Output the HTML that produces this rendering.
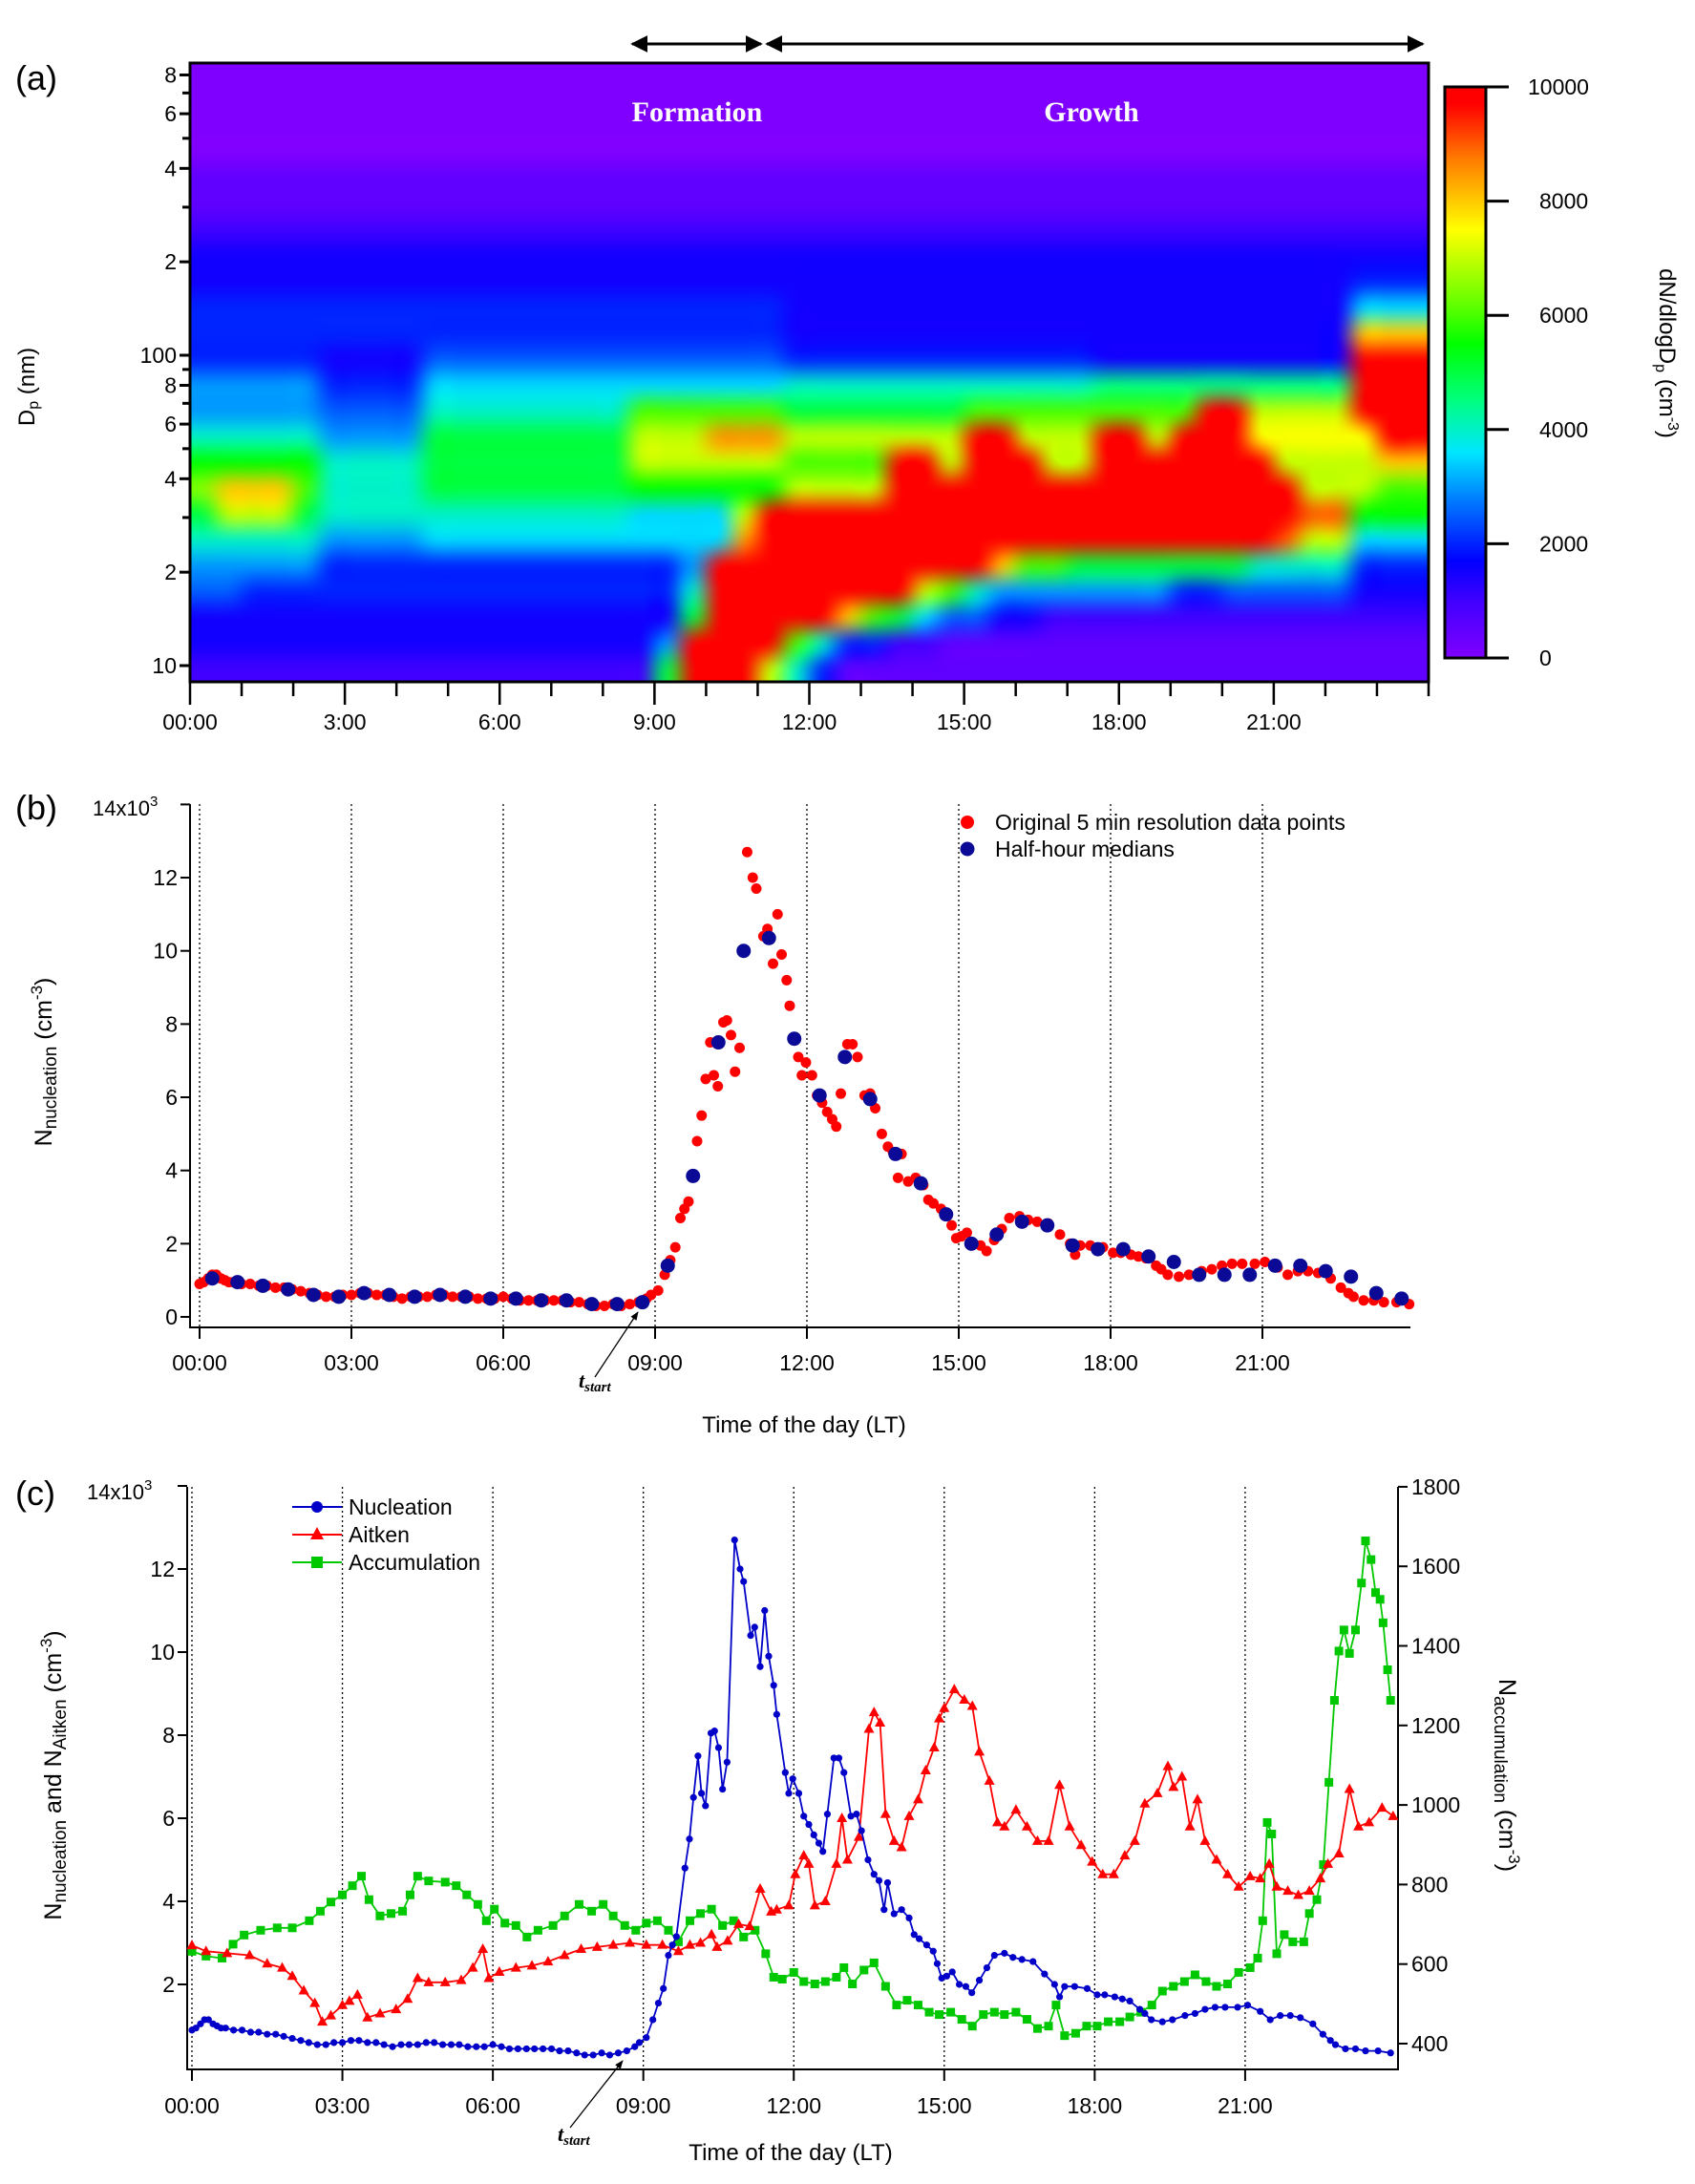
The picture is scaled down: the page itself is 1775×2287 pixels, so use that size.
<!DOCTYPE html>
<html><head><meta charset="utf-8">
<style>
html,body{margin:0;padding:0;background:#fff;}
#wrap{position:relative;width:1775px;height:2287px;overflow:hidden;background:#fff;}
#heat{position:absolute;left:199px;top:66px;}
svg{position:absolute;left:0;top:0;}
text{font-family:"Liberation Sans",sans-serif;fill:#000;}
</style></head>
<body>
<div id="wrap">
<canvas id="heat" width="1297" height="648"></canvas>
<svg id="svg" width="1775" height="2287" viewBox="0 0 1775 2287">
  <defs>
    <marker id="ah" viewBox="0 0 10 10" refX="9" refY="5" markerWidth="6" markerHeight="6" orient="auto-start-reverse"><path d="M0,0 L10,5 L0,10 z" fill="#000"/></marker>
    <marker id="ah2" viewBox="0 0 10 10" refX="9" refY="5" markerWidth="7" markerHeight="7" orient="auto"><path d="M0,1 L10,5 L0,9 z" fill="#000"/></marker>
    <linearGradient id="cbar" x1="0" y1="1" x2="0" y2="0">
      <stop offset="0" stop-color="rgb(128,0,255)"/>
      <stop offset="0.1" stop-color="rgb(64,0,255)"/>
      <stop offset="0.17" stop-color="rgb(0,0,255)"/>
      <stop offset="0.28" stop-color="rgb(0,128,255)"/>
      <stop offset="0.36" stop-color="rgb(0,230,255)"/>
      <stop offset="0.45" stop-color="rgb(0,255,128)"/>
      <stop offset="0.55" stop-color="rgb(0,255,0)"/>
      <stop offset="0.62" stop-color="rgb(100,255,0)"/>
      <stop offset="0.75" stop-color="rgb(255,255,0)"/>
      <stop offset="0.87" stop-color="rgb(255,128,0)"/>
      <stop offset="0.97" stop-color="rgb(255,0,0)"/>
      <stop offset="1" stop-color="rgb(255,0,0)"/>
    </linearGradient>
  </defs>
  <g id="gA"></g>
  <g id="gB"></g>
  <g id="gC"></g>
</svg>
</div>
<script>
// ---------- Panel (a) heatmap data: rows bottom (9 nm) -> top (870 nm); 48 half-hour columns; char index*500 cm-3 ----------
const heatRows = [
"2*18 a k*3 e 8 4 1*23",
"3*18 6 k*4 c 8 4*2 2*2 1*19",
"3*19 a k*5 g c a 7 5*2 3*2 2*15",
"5*2 4*17 8 k*8 e c 8 6*7 4*2 5*5 3*3",
"6*5 4*14 6 k*11 g c*2 a*7 8*4 4*3",
"8*5 6*4 7*12 h k*20 i e*2 7*3",
"a e*3 a 8*4 8*8 7*4 e k*21 i*2 b*3",
"d g*3 c 8*4 a*8 b*6 e*4 k*16 e*3 c*2",
"b*5 8*4 a*8 e*6 c*4 k*2 e k*3 e*2 k*7 e*4 g*2",
"8*5 6*4 a*8 e*3 h*3 e*7 k*2 e*3 k*2 e k*3 f*5 k*2",
"6*5 5*4 8*8 c*6 a*7 c*9 k*2 e*4 k*3",
"6*5 4*4 7*14 8*12 9*10 k*3",
"4*5 3*4 5*14 4*12 3*10 k*3",
"4*23 3*22 g*3",
"4*23 3*22 7*3",
"3*45 4*3",
"3*48",
"2*48",
"1*48",
"1*48",
"0*48","0*48","0*48","0*48"
];
const sizeTicks = [10,20,30,40,50,60,70,80,90,100,200,300,400,500,600,700,800];
const sizeTickLabels = ["10","2","","4","","6","","8","","100","2","","4","","6","","8"];
const cbarTicks = [0,2000,4000,6000,8000,10000];

// ---------- Panel (b) data ----------
const bTimes = [0,0.08,0.17,0.25,0.33,0.42,0.5,0.58,0.67,0.83,1.0,1.17,1.33,1.5,1.67,1.83,2.0,2.17,2.33,2.5,2.67,2.83,3.0,3.17,3.33,3.5,3.67,3.83,4.0,4.17,4.33,4.5,4.67,4.83,5.0,5.17,5.33,5.5,5.67,5.83,6.0,6.17,6.33,6.5,6.67,6.83,7.0,7.17,7.33,7.5,7.67,7.83,8.0,8.17,8.33,8.5,8.67,8.83,8.92,
9.06,9.19,9.3,9.4,9.5,9.58,9.66,9.83,9.92,10.0,10.09,10.16,10.24,10.35,10.42,10.5,10.58,10.67,10.82,10.93,11.0,11.14,11.22,11.33,11.42,11.5,11.6,11.66,11.83,11.9,11.98,12.1,12.2,12.3,12.4,12.5,12.58,12.67,12.8,12.9,13.0,13.14,13.25,13.35,13.48,13.6,13.7,13.8,13.87,14.0,14.15,14.3,14.4,14.5,14.65,14.78,14.86,14.95,15.05,15.16,15.3,15.43,15.55,15.7,15.85,16.0,16.2,16.37,16.55,16.77,17.0,17.2,17.3,17.4,17.6,17.85,18.05,18.2,18.4,18.55,18.7,18.9,19.0,19.13,19.35,19.55,19.8,20.0,20.2,20.4,20.6,20.85,21.05,21.3,21.5,21.7,21.9,22.1,22.35,22.55,22.7,22.8,23.0,23.2,23.4,23.65,23.9];
const bValues = [0.9,0.95,1.05,1.15,1.15,1.05,1.0,0.95,0.95,0.9,0.9,0.85,0.85,0.8,0.8,0.75,0.7,0.65,0.6,0.55,0.55,0.6,0.6,0.65,0.65,0.6,0.6,0.55,0.5,0.55,0.55,0.55,0.6,0.6,0.55,0.55,0.55,0.5,0.5,0.5,0.55,0.5,0.45,0.45,0.45,0.45,0.45,0.45,0.4,0.4,0.35,0.3,0.3,0.35,0.3,0.35,0.4,0.5,0.6,
0.72,1.15,1.55,1.9,2.7,2.95,3.15,4.8,5.5,6.5,7.5,6.6,6.3,8.05,8.1,7.7,6.7,7.35,12.7,12.0,11.7,10.4,10.6,9.65,11.0,9.9,9.2,8.5,7.1,6.6,6.95,6.6,6.05,5.85,5.6,5.4,5.2,6.1,7.45,7.45,7.1,6.05,6.1,5.7,5.0,4.65,4.5,3.8,4.45,3.7,3.8,3.6,3.2,3.1,2.95,2.8,2.5,2.15,2.2,2.3,2.0,1.95,1.8,2.1,2.4,2.7,2.75,2.65,2.6,2.55,2.25,2.0,1.7,1.95,1.95,1.9,1.75,1.75,1.7,1.65,1.6,1.4,1.3,1.15,1.1,1.15,1.25,1.3,1.4,1.45,1.45,1.45,1.5,1.35,1.15,1.25,1.25,1.2,1.05,0.8,0.65,0.55,0.45,0.45,0.4,0.4,0.35];
const medTimes = [0.25,0.75,1.25,1.75,2.25,2.75,3.25,3.75,4.25,4.75,5.25,5.75,6.25,6.75,7.25,7.75,8.25,8.75,9.25,9.75,10.25,10.75,11.25,11.75,12.25,12.75,13.25,13.75,14.25,14.75,15.25,15.75,16.25,16.75,17.25,17.75,18.25,18.75,19.25,19.75,20.25,20.75,21.25,21.75,22.25,22.75,23.25,23.75];
const medValues = [1.05,0.95,0.85,0.75,0.6,0.55,0.65,0.6,0.55,0.6,0.55,0.5,0.5,0.45,0.45,0.35,0.35,0.4,1.4,3.85,7.5,10.0,10.35,7.6,6.05,7.1,5.95,4.45,3.65,2.8,2.0,2.25,2.6,2.5,1.95,1.85,1.85,1.65,1.5,1.15,1.15,1.15,1.4,1.4,1.25,1.1,0.65,0.5];
const leftTicks = [0,2,4,6,8,10,12,14];
const hourTicks = [0,3,6,9,12,15,18,21];
const hourLabels = ["00:00","03:00","06:00","09:00","12:00","15:00","18:00","21:00"];
const hourLabelsA = ["00:00","3:00","6:00","9:00","12:00","15:00","18:00","21:00"];

// ---------- Panel (c) data ----------
const aitTimes = [0,0.28,0.7,1.15,1.5,1.8,2.0,2.23,2.45,2.6,2.77,3.0,3.14,3.3,3.5,3.75,4.07,4.3,4.5,4.72,5.05,5.37,5.6,5.8,5.92,6.13,6.46,6.78,7.1,7.43,7.76,8.08,8.4,8.73,9.06,9.38,9.7,9.93,10.14,10.36,10.47,10.68,10.9,11.12,11.33,11.55,11.66,11.9,12.03,12.2,12.3,12.42,12.63,12.85,12.96,13.07,13.3,13.5,13.6,13.72,13.83,14.0,14.15,14.3,14.48,14.63,14.8,14.9,15.0,15.2,15.4,15.56,15.7,15.9,16.06,16.2,16.43,16.65,16.86,17.08,17.3,17.5,17.73,17.95,18.16,18.38,18.6,18.8,19.0,19.25,19.46,19.57,19.74,19.9,20.05,20.2,20.43,20.65,20.87,21.1,21.3,21.48,21.63,21.85,22.06,22.28,22.5,22.65,22.87,23.08,23.26,23.47,23.73,23.95];
const aitValues = [2.94,2.8,2.75,2.7,2.5,2.4,2.2,1.85,1.55,1.1,1.25,1.5,1.6,1.75,1.2,1.3,1.4,1.65,2.15,2.05,2.05,2.1,2.4,2.85,2.15,2.3,2.4,2.45,2.55,2.7,2.85,2.9,2.95,3.0,2.95,2.95,2.8,2.95,3.0,3.2,2.9,3.05,3.45,3.4,4.3,3.75,3.8,3.9,4.65,5.1,4.9,3.9,4.0,4.9,6.0,5.0,5.55,8.15,8.55,8.3,6.1,5.45,5.3,6.05,6.45,7.15,7.7,8.4,8.65,9.1,8.85,8.7,7.6,6.9,5.9,5.8,6.2,5.8,5.45,5.45,6.8,5.8,5.35,4.95,4.65,4.65,5.1,5.45,6.35,6.6,7.25,6.75,7.0,5.8,6.45,5.45,5.0,4.65,4.35,4.6,4.55,4.9,4.35,4.25,4.15,4.25,4.55,4.9,5.15,6.7,5.8,5.9,6.25,6.05];
const accTimes = [0,0.28,0.6,0.82,1.04,1.37,1.7,2.0,2.34,2.56,2.77,3.0,3.2,3.38,3.53,3.75,3.97,4.2,4.35,4.5,4.72,5.05,5.27,5.48,5.7,5.87,6.03,6.24,6.46,6.68,6.9,7.2,7.43,7.72,7.97,8.2,8.4,8.63,8.85,9.06,9.28,9.5,9.7,9.93,10.14,10.36,10.58,10.8,11.0,11.23,11.44,11.6,11.77,12.0,12.2,12.42,12.63,12.85,13.0,13.17,13.4,13.6,13.83,14.05,14.26,14.48,14.7,14.9,15.13,15.35,15.56,15.78,16.0,16.2,16.43,16.65,16.86,17.08,17.23,17.4,17.62,17.84,18.05,18.27,18.5,18.7,18.92,19.14,19.35,19.57,19.79,20.0,20.22,20.43,20.65,20.87,21.1,21.25,21.35,21.44,21.53,21.63,21.78,21.95,22.17,22.28,22.43,22.56,22.67,22.78,22.87,22.97,23.08,23.2,23.32,23.4,23.51,23.6,23.69,23.75,23.84,23.9];
const accValues = [632,620,615,650,673,685,691,691,709,733,756,774,797,821,762,721,727,733,774,821,809,806,797,774,750,709,738,703,697,668,685,697,721,750,733,750,721,697,685,703,709,685,656,709,727,738,697,709,668,685,626,567,562,579,556,550,556,567,591,550,585,603,544,497,509,497,479,473,479,461,444,473,479,473,479,461,438,444,497,420,426,444,444,455,455,467,479,497,532,544,556,573,556,544,550,579,591,615,709,956,927,626,674,656,656,727,762,850,1057,1263,1387,1440,1381,1440,1558,1664,1617,1534,1517,1458,1340,1263];
const rightTicks = [400,600,800,1000,1200,1400,1600,1800];

// ---------- helpers ----------
const NS = "http://www.w3.org/2000/svg";
function mk(parent, tag, attrs, txt){
  const e = document.createElementNS(NS, tag);
  for (const k in attrs) e.setAttribute(k, attrs[k]);
  if (txt !== undefined) e.textContent = txt;
  parent.appendChild(e);
  return e;
}
const cstops = [[0,128,0,255],[0.1,64,0,255],[0.17,0,0,255],[0.28,0,128,255],[0.36,0,230,255],[0.45,0,255,128],[0.55,0,255,0],[0.62,100,255,0],[0.75,255,255,0],[0.87,255,128,0],[0.97,255,0,0],[1,255,0,0]];
function cmap(f){
  f = Math.max(0, Math.min(1, f));
  for (let i=1;i<cstops.length;i++){
    if (f <= cstops[i][0]){
      const a=cstops[i-1], b=cstops[i], u=(f-a[0])/(b[0]-a[0]);
      return [a[1]+(b[1]-a[1])*u, a[2]+(b[2]-a[2])*u, a[3]+(b[3]-a[3])*u];
    }
  }
  return [255,0,0];
}
function parseRow(s){
  const out=[];
  s.split(" ").forEach(tok=>{
    const p=tok.split("*"); const n=p.length>1?parseInt(p[1]):1;
    for(let i=0;i<n;i++) out.push(parseInt(p[0],36)*500);
  });
  return out;
}

// ---------- Panel A ----------
(function(){
  const g = document.getElementById("gA");
  const L=199,R=1496,T=66,B=714;
  const xA = t => L + (R-L)*t/24;
  const yA = d => 372 - 325*Math.log10(d/100);
  const rows = heatRows.map(parseRow);
  const nR = rows.length, nC = rows[0].length;
  const small = document.createElement("canvas");
  small.width = nC; small.height = nR;
  const sctx = small.getContext("2d");
  const img = sctx.createImageData(nC, nR);
  for (let r=0;r<nR;r++){
    for (let c=0;c<nC;c++){
      const v = rows[r][c]===undefined?0:rows[r][c];
      const col = cmap(v/10000);
      const idx = ((nR-1-r)*nC + c)*4;
      img.data[idx]=col[0]; img.data[idx+1]=col[1]; img.data[idx+2]=col[2]; img.data[idx+3]=255;
    }
  }
  sctx.putImageData(img,0,0);
  const hc = document.getElementById("heat");
  const ctx = hc.getContext("2d");
  ctx.imageSmoothingEnabled = true;
  ctx.imageSmoothingQuality = "high";
  ctx.drawImage(small, 0, 0, hc.width, hc.height);

  const fr = mk(g,"rect",{x:L,y:T,width:R-L,height:B-T,fill:"none",stroke:"#000","stroke-width":3});
  
  
  sizeTicks.forEach((d,i)=>{
    const y=yA(d);
    const lab = sizeTickLabels[i];
    const tk = mk(g,"line",{x1:L-(lab?11:8),x2:L,y1:y,y2:y,stroke:"#000","stroke-width":3});
    
    
    if (lab){
      const t = mk(g,"text",{x:L-14,y:y+8,"text-anchor":"end","font-size":23},lab);
      
      
    }
  });
  for (let h=0;h<=24;h++){
    const x=xA(h);
    const major = h%3===0 && h<24;
    const tk = mk(g,"line",{x1:x,x2:x,y1:B,y2:B+(major?24:15),stroke:"#000","stroke-width":2.5});
    
    
  }
  hourTicks.forEach((h,i)=>{
    const t = mk(g,"text",{x:xA(h),y:764,"text-anchor":"middle","font-size":23},hourLabelsA[i]);
    
    
  });
  const pa = mk(g,"text",{x:16,y:94,"font-size":36},"(a)");
  
  
  const yt = mk(g,"text",{x:0,y:0,"font-size":24,"text-anchor":"middle",transform:"translate(36,405) rotate(-90)"});
  
  
  yt.innerHTML = 'D<tspan font-size="16" dy="4">p</tspan><tspan dy="-4"> (nm)</tspan>';
  const f1 = mk(g,"text",{x:730,y:127,"text-anchor":"middle","font-size":30,"font-weight":"bold",style:"font-family:'Liberation Serif',serif;fill:#fff"},"Formation");
  
  
  const f2 = mk(g,"text",{x:1143,y:127,"text-anchor":"middle","font-size":30,"font-weight":"bold",style:"font-family:'Liberation Serif',serif;fill:#fff"},"Growth");
  
  
  const a1 = mk(g,"line",{x1:662,x2:797,y1:46,y2:46,stroke:"#000","stroke-width":3,"marker-start":"url(#ah)","marker-end":"url(#ah)"});
  
  
  const a2 = mk(g,"line",{x1:803,x2:1490,y1:46,y2:46,stroke:"#000","stroke-width":3,"marker-start":"url(#ah)","marker-end":"url(#ah)"});
  
  
  const cbT=91, cbB=689, cbL=1513, cbR=1556;
  const cb = mk(g,"rect",{x:cbL,y:cbT,width:cbR-cbL,height:cbB-cbT,fill:"url(#cbar)",stroke:"#000","stroke-width":3});
  
  
  cbarTicks.forEach(v=>{
    const y = cbB - (cbB-cbT)*v/10000;
    const tk = mk(g,"line",{x1:cbR,x2:cbR+24,y1:y,y2:y,stroke:"#000","stroke-width":3});
    
    
    const t = mk(g,"text",{x:v===10000?1600:1612,y:y+8,"font-size":23},String(v));
    
    
  });
  const ct = mk(g,"text",{x:0,y:0,"font-size":24,"text-anchor":"middle",transform:"translate(1738,370) rotate(90)"});
  
  
  ct.innerHTML = 'dN/dlogD<tspan font-size="16" dy="4">p</tspan><tspan dy="-4"> (cm</tspan><tspan font-size="16" dy="-9">-3</tspan><tspan dy="9">)</tspan>';
})();

// ---------- Panel B ----------
(function(){
  const g = document.getElementById("gB");
  const L=199, Ttop=842, AX=1390;
  const xB = t => 209 + 53.0*t;
  const yB = v => 1379 - 38.33*v;
  hourTicks.forEach((h,i)=>{
    const gl = mk(g,"line",{x1:xB(h),x2:xB(h),y1:Ttop,y2:AX,stroke:"#000","stroke-width":1.3,"stroke-dasharray":"2,3"});
    
    
    const tk = mk(g,"line",{x1:xB(h),x2:xB(h),y1:AX,y2:AX+12,stroke:"#000","stroke-width":2});
    
    
    const t = mk(g,"text",{x:xB(h),y:1435,"text-anchor":"middle","font-size":23},hourLabels[i]);
    
    
  });
  const ax = mk(g,"path",{d:`M${L},${Ttop} L${L},${AX} L1477,${AX}`,fill:"none",stroke:"#000","stroke-width":2});
  
  
  leftTicks.forEach(v=>{
    const y=yB(v);
    const tk = mk(g,"line",{x1:L-10,x2:L,y1:y,y2:y,stroke:"#000","stroke-width":2});
    
    
    if (v<14){
      const t = mk(g,"text",{x:L-13,y:y+8,"text-anchor":"end","font-size":23},String(v));
      
      
    }
  });
  const mult = mk(g,"text",{x:97,y:854,"font-size":22});
  
  
  mult.innerHTML='14x10<tspan font-size="15" dy="-10">3</tspan>';
  const pb = mk(g,"text",{x:16,y:858,"font-size":36},"(b)");
  
  
  const yt = mk(g,"text",{x:0,y:0,"font-size":25,"text-anchor":"middle",transform:"translate(54,1112) rotate(-90)"});
  
  
  yt.innerHTML='N<tspan font-size="19" dy="5">nucleation</tspan><tspan dy="-5"> (cm</tspan><tspan font-size="17" dy="-10">-3</tspan><tspan dy="10">)</tspan>';
  const xt = mk(g,"text",{x:842,y:1500,"text-anchor":"middle","font-size":24},"Time of the day (LT)");
  
  
  bTimes.forEach((t,i)=>{
    const c = mk(g,"circle",{cx:xB(t),cy:yB(bValues[i]),r:5.5,fill:"#f00"});
    
    
  });
  medTimes.forEach((t,i)=>{
    const c = mk(g,"circle",{cx:xB(t),cy:yB(medValues[i]),r:7.5,fill:"#0a0a96"});
    
    
  });
  const l1 = mk(g,"circle",{cx:1013,cy:861,r:7,fill:"#f00"});
  
  
  const l2 = mk(g,"circle",{cx:1013,cy:889,r:7.5,fill:"#0a0a96"});
  
  
  const t1 = mk(g,"text",{x:1042,y:869,"font-size":23},"Original 5 min resolution data points");
  
  
  const t2 = mk(g,"text",{x:1042,y:897,"font-size":23},"Half-hour medians");
  
  
  const ar = mk(g,"line",{x1:623,y1:1442,x2:668,y2:1374,stroke:"#000","stroke-width":1.3,"marker-end":"url(#ah2)"});
  
  
  const ts = mk(g,"text",{x:606,y:1453,"font-size":22,"font-weight":"bold","font-style":"italic",style:"font-family:'Liberation Serif',serif"});
  
  
  ts.innerHTML='t<tspan font-size="15" dy="4">start</tspan>';
})();

// ---------- Panel C ----------
(function(){
  const g = document.getElementById("gC");
  const L=196, R=1464, Ttop=1557, AX=2167;
  const xC = t => 201 + 52.52*t;
  const yC = v => 2165 - 43.5*v;
  const yR = a => 2140 - (a-400)*0.4165;
  hourTicks.forEach((h,i)=>{
    const gl = mk(g,"line",{x1:xC(h),x2:xC(h),y1:Ttop,y2:AX,stroke:"#000","stroke-width":1.3,"stroke-dasharray":"2,3"});
    
    
    const tk = mk(g,"line",{x1:xC(h),x2:xC(h),y1:AX,y2:AX+12,stroke:"#000","stroke-width":2});
    
    
    const t = mk(g,"text",{x:xC(h),y:2213,"text-anchor":"middle","font-size":23},hourLabels[i]);
    
    
  });
  const ax = mk(g,"path",{d:`M${L},${Ttop} L${L},${AX} L${R},${AX} L${R},${Ttop}`,fill:"none",stroke:"#000","stroke-width":2});
  
  
  leftTicks.forEach(v=>{
    if (v===0) return;
    const y=yC(v);
    const tk = mk(g,"line",{x1:L-10,x2:L,y1:y,y2:y,stroke:"#000","stroke-width":2});
    
    
    if (v<14){
      const t = mk(g,"text",{x:L-13,y:y+8,"text-anchor":"end","font-size":23},String(v));
      
      
    }
  });
  rightTicks.forEach(a=>{
    const y=yR(a);
    const tk = mk(g,"line",{x1:R,x2:R+10,y1:y,y2:y,stroke:"#000","stroke-width":2});
    
    
    const t = mk(g,"text",{x:R+14,y:y+8,"font-size":23},String(a));
    
    
  });
  const mult = mk(g,"text",{x:91,y:1570,"font-size":22});
  
  
  mult.innerHTML='14x10<tspan font-size="15" dy="-10">3</tspan>';
  const pc = mk(g,"text",{x:16,y:1576,"font-size":36},"(c)");
  
  
  const yt = mk(g,"text",{x:0,y:0,"font-size":25,"text-anchor":"middle",transform:"translate(64,1859) rotate(-90)"});
  
  
  yt.innerHTML='N<tspan font-size="19" dy="5">nucleation</tspan><tspan dy="-5"> and N</tspan><tspan font-size="19" dy="5">Aitken</tspan><tspan dy="-5"> (cm</tspan><tspan font-size="17" dy="-10">-3</tspan><tspan dy="10">)</tspan>';
  const rt = mk(g,"text",{x:0,y:0,"font-size":25,"text-anchor":"middle",transform:"translate(1570,1859) rotate(90)"});
  
  
  rt.innerHTML='N<tspan font-size="19" dy="5">accumulation</tspan><tspan dy="-5"> (cm</tspan><tspan font-size="17" dy="-10">-3</tspan><tspan dy="10">)</tspan>';
  const xt = mk(g,"text",{x:828,y:2262,"text-anchor":"middle","font-size":24},"Time of the day (LT)");
  
  

  function series(ts, vs, fx, fy, color, shape, name){
    const pts = ts.map((t,i)=>`${fx(t).toFixed(1)},${fy(vs[i]).toFixed(1)}`).join(" ");
    const pl = mk(g,"polyline",{points:pts,fill:"none",stroke:color,"stroke-width":1.8});
    
    
    ts.forEach((t,i)=>{
      const x=fx(t), y=fy(vs[i]);
      let m;
      if (shape==="c") m = mk(g,"circle",{cx:x,cy:y,r:3.6,fill:color});
      else if (shape==="t") m = mk(g,"path",{d:`M${x},${y-6} L${x+5.5},${y+4} L${x-5.5},${y+4} z`,fill:color});
      else m = mk(g,"rect",{x:x-4.5,y:y-4.5,width:9,height:9,fill:color});
      
      
    });
  }
  series(accTimes, accValues, xC, yR, "#00c800", "s", "accumulation");
  series(aitTimes, aitValues, xC, yC, "#f00", "t", "aitken");
  series(bTimes, bValues, xC, yC, "#0000c8", "c", "nucleation");

  const legend = [["Nucleation","#0000c8","c",1578],["Aitken","#f00","t",1607],["Accumulation","#00c800","s",1636]];
  legend.forEach(([lab,col,sh,y])=>{
    const ln = mk(g,"line",{x1:306,x2:358,y1:y,y2:y,stroke:col,"stroke-width":2});
    
    
    let m;
    if (sh==="c") m = mk(g,"circle",{cx:332,cy:y,r:6,fill:col});
    else if (sh==="t") m = mk(g,"path",{d:`M332,${y-8} L339,${y+5} L325,${y+5} z`,fill:col});
    else m = mk(g,"rect",{x:326,y:y-6,width:12,height:12,fill:col});
    
    
    const t = mk(g,"text",{x:365,y:y+8,"font-size":23},lab);
    
    
  });
  const ar = mk(g,"line",{x1:597,y1:2228,x2:652,y2:2158,stroke:"#000","stroke-width":1.3,"marker-end":"url(#ah2)"});
  
  
  const ts = mk(g,"text",{x:584,y:2242,"font-size":22,"font-weight":"bold","font-style":"italic",style:"font-family:'Liberation Serif',serif"});
  
  
  ts.innerHTML='t<tspan font-size="15" dy="4">start</tspan>';
})();
</script>
</body></html>
